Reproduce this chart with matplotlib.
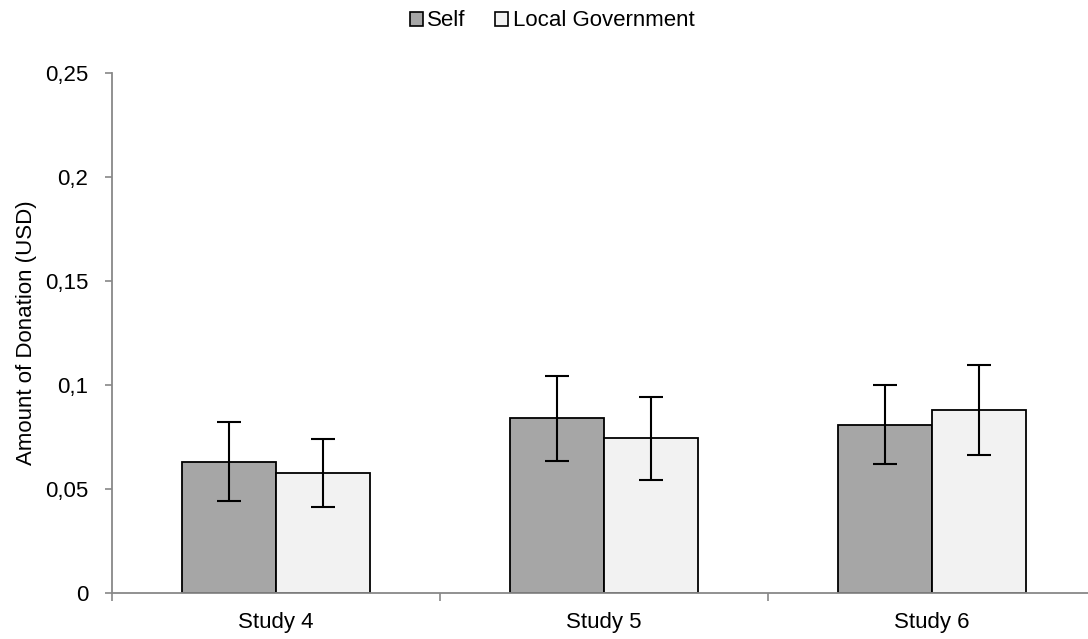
import numpy as np
import matplotlib.pyplot as plt
from matplotlib.patches import Patch

plt.rcParams['font.family'] = ['Liberation Sans', 'DejaVu Sans']

studies = ["Study 4", "Study 5", "Study 6"]
self_vals = [0.063, 0.084, 0.081]
self_err = [0.019, 0.0205, 0.019]
gov_vals = [0.0578, 0.0743, 0.088]
gov_err = [0.0163, 0.020, 0.0218]
yticks = [0, 0.05, 0.1, 0.15, 0.2, 0.25]
ytick_labels = ["0", "0,05", "0,1", "0,15", "0,2", "0,25"]

axis_grey = "#888888"
fs = 16

fig = plt.figure(figsize=(10.88, 6.39), dpi=100)
ax = fig.add_axes([112 / 1088, 46 / 639, 984 / 1088, 520 / 639])

x = np.arange(len(studies))
w = 0.2866
err_kw = dict(ecolor="black", elinewidth=1.5, capsize=8.5, capthick=1.5)
ax.bar(x - w / 2, self_vals, w, yerr=self_err, color="#a6a6a6",
       edgecolor="black", linewidth=1.3, error_kw=err_kw, label="Self")
ax.bar(x + w / 2, gov_vals, w, yerr=gov_err, color="#f2f2f2",
       edgecolor="black", linewidth=1.3, error_kw=err_kw, label="Local Government")

ax.set_xlim(-0.5, 2.5)
ax.set_ylim(0, 0.25)
ax.set_yticks(yticks)
ax.set_yticklabels(ytick_labels)
ax.set_xticks(x)
ax.set_xticklabels(studies)
ax.set_xticks([-0.5, 0.5, 1.5, 2.5], minor=True)

for s in ["top", "right"]:
    ax.spines[s].set_visible(False)
for s in ["left", "bottom"]:
    ax.spines[s].set_color(axis_grey)
    ax.spines[s].set_linewidth(1.3)

ax.tick_params(axis="y", direction="out", length=5, width=1.2, color=axis_grey,
               labelsize=fs, pad=12)
ax.tick_params(axis="x", which="major", length=0, labelsize=fs, pad=14)
ax.tick_params(axis="x", which="minor", direction="out", length=6, width=1.2,
               color=axis_grey)

ax.set_ylabel("Amount of Donation (USD)", fontsize=fs, labelpad=6)

handles = [Patch(facecolor="#a6a6a6", edgecolor="black", linewidth=1.2),
           Patch(facecolor="#f2f2f2", edgecolor="black", linewidth=1.2)]
fig.legend(handles, ["Self", "Local Government"], loc="center",
           bbox_to_anchor=(552 / 1088, 1 - 21 / 639), ncol=2, frameon=False,
           fontsize=fs, handlelength=0.6, handleheight=0.6,
           handletextpad=0.2, columnspacing=1.3, borderpad=0)

fig.savefig("out.png", dpi=100)
